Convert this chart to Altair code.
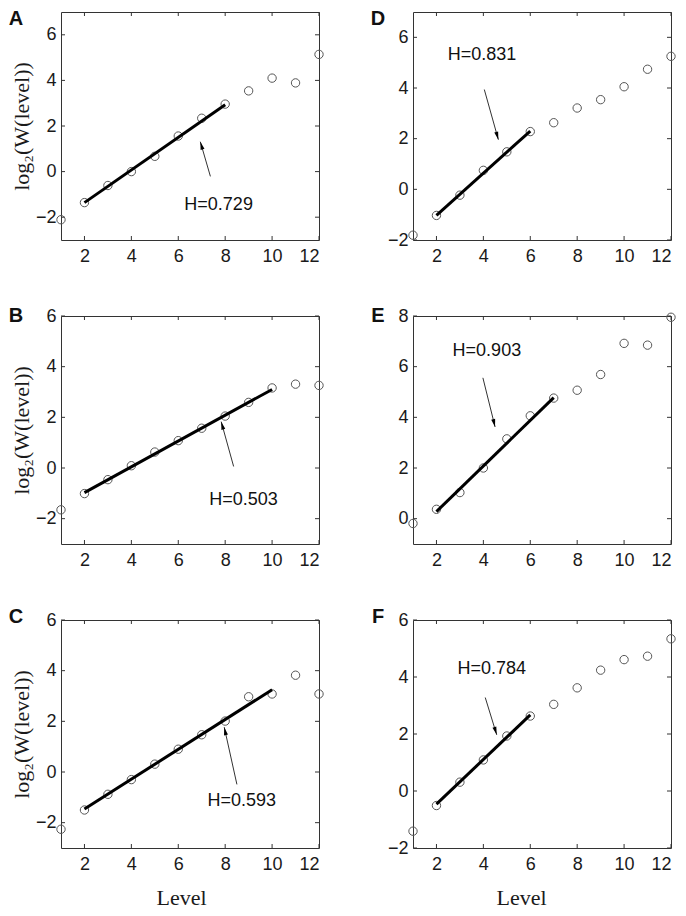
import math
import altair as alt
import pandas as pd

levels = [1, 2, 3, 4, 5, 6, 7, 8, 9, 10, 11, 12]
x_ticks = [2, 4, 6, 8, 10, 12]

# panel letters (in grid order: A D / B E / C F)
letters = ["A", "D", "B", "E", "C", "F"]

y_A = [-2.11, -1.36, -0.61, 0.00, 0.67, 1.56, 2.34, 2.96, 3.54, 4.10, 3.89, 5.14]
y_B = [-1.65, -1.01, -0.46, 0.09, 0.63, 1.08, 1.57, 2.05, 2.59, 3.16, 3.31, 3.26]
y_C = [-2.26, -1.50, -0.88, -0.30, 0.31, 0.90, 1.47, 2.01, 2.97, 3.08, 3.82, 3.08]
y_D = [-1.81, -1.03, -0.23, 0.75, 1.48, 2.28, 2.63, 3.21, 3.54, 4.05, 4.74, 5.25]
y_E = [-0.19, 0.37, 1.03, 2.00, 3.15, 4.06, 4.76, 5.07, 5.69, 6.92, 6.85, 7.95]
y_F = [-1.41, -0.51, 0.31, 1.09, 1.93, 2.63, 3.04, 3.62, 4.24, 4.61, 4.73, 5.34]

# fitted line end points
fit_A = ([2, 8], [-1.36, 2.93])
fit_B = ([2, 10], [-0.97, 3.10])
fit_C = ([2, 10], [-1.46, 3.25])
fit_D = ([2, 6], [-1.03, 2.30])
fit_E = ([2, 7], [0.28, 4.78])
fit_F = ([2, 6], [-0.46, 2.67])

# y-axis domains and ticks
dom_A, ticks_A = [-3, 7], [-2, 0, 2, 4, 6]
dom_B, ticks_B = [-3, 6], [-2, 0, 2, 4, 6]
dom_C, ticks_C = [-3, 6], [-2, 0, 2, 4, 6]
dom_D, ticks_D = [-2, 7], [-2, 0, 2, 4, 6]
dom_E, ticks_E = [-1, 8], [0, 2, 4, 6, 8]
dom_F, ticks_F = [-2, 6], [-2, 0, 2, 4, 6]

# annotation labels: text, position, arrow tail, arrow head
labels = ["H=0.729", "H=0.831", "H=0.503", "H=0.903", "H=0.593", "H=0.784"]
label_pos = [(7.72, -1.47), (3.94, 5.29), (8.78, -1.26), (4.15, 6.62), (8.71, -1.16), (4.36, 4.27)]
arrow_tail = [(7.37, -0.21), (4.04, 3.94), (8.36, 0.06), (3.98, 5.56), (8.50, -0.49), (4.08, 3.28)]
arrow_head = [(6.94, 1.31), (4.64, 1.96), (7.83, 1.83), (4.50, 3.62), (7.96, 1.77), (4.57, 1.97)]

W, H = 258, 228
SANS = "Liberation Sans"
SERIF = "Liberation Serif"
AXC = "#1a1a1a"
HEAD = "M0,0L-0.4,1.6L0.4,1.6Z"

series = [y_A, y_D, y_B, y_E, y_C, y_F]
fits = [fit_A, fit_D, fit_B, fit_E, fit_C, fit_F]
doms = [dom_A, dom_D, dom_B, dom_E, dom_C, dom_F]
yticks = [ticks_A, ticks_D, ticks_B, ticks_E, ticks_C, ticks_F]
letter_dy = [7, 7, 0, 0, -3, -3]


def panel(i):
    left = (i % 2 == 0)
    bottom = (i >= 4)
    dom = doms[i]
    xs = alt.Scale(domain=[1, 12], nice=False, zero=False)
    ys = alt.Scale(domain=dom, nice=False, zero=False)
    xaxis = alt.Axis(values=x_ticks, ticks=False, domain=False, grid=False,
                     labelFont=SANS, labelFontSize=18, labelColor=AXC, labelPadding=7,
                     title="Level" if bottom else None, titleFont=SERIF, titleFontSize=22,
                     titleFontWeight="normal", titleColor=AXC, titlePadding=14,
                     titleX=(120 if left else 108))
    yaxis = alt.Axis(values=yticks[i], ticks=False, domain=False, grid=False,
                     labelFont=SANS, labelFontSize=18, labelColor=AXC, labelPadding=5,
                     title="log\u2082(W(level))" if left else None, titleFont=SERIF,
                     titleFontSize=22, titleFontWeight="normal", titleColor=AXC,
                     titlePadding=2)

    pts = pd.DataFrame({"x": levels, "y": series[i]})
    base_pts = alt.Chart(pts).mark_point(shape="circle", filled=False, size=70,
                                         stroke="#555555", strokeWidth=1, opacity=1).encode(
        x=alt.X("x:Q", scale=xs, axis=xaxis),
        y=alt.Y("y:Q", scale=ys, axis=yaxis),
    )

    fx, fy = fits[i]
    fit = alt.Chart(pd.DataFrame({"x": fx, "y": fy})).mark_line(
        color="black", strokeWidth=3).encode(
        x=alt.X("x:Q", scale=xs), y=alt.Y("y:Q", scale=ys))

    tx, ty = arrow_tail[i]
    hx, hy = arrow_head[i]
    arr = pd.DataFrame({"x": [tx], "y": [ty], "x2": [hx], "y2": [hy]})
    shaft = alt.Chart(arr).mark_rule(color="#333333", strokeWidth=1).encode(
        x=alt.X("x:Q", scale=xs), y=alt.Y("y:Q", scale=ys), x2="x2:Q", y2="y2:Q")

    sx = W / 11.0
    sy = H / float(dom[1] - dom[0])
    dx = (hx - tx) * sx
    dy = -(hy - ty) * sy
    ang = math.degrees(math.atan2(dx, -dy)) % 360
    head = alt.Chart(pd.DataFrame({"x": [hx], "y": [hy]})).mark_point(
        shape=HEAD, filled=True, color="black", size=100, angle=ang, opacity=1,
        strokeWidth=0).encode(
        x=alt.X("x:Q", scale=xs), y=alt.Y("y:Q", scale=ys))

    lx, ly = label_pos[i]
    txt = alt.Chart(pd.DataFrame({"x": [lx], "y": [ly], "t": [labels[i]]})).mark_text(
        font=SANS, fontSize=18, color="#111111", align="center", baseline="middle").encode(
        x=alt.X("x:Q", scale=xs), y=alt.Y("y:Q", scale=ys), text="t:N")

    letter = alt.Chart(pd.DataFrame({"t": [letters[i]]})).mark_text(
        font=SANS, fontSize=20, fontWeight="bold", color="#111111",
        align="center", baseline="middle").encode(
        x=alt.value(-45 if left else -35), y=alt.value(letter_dy[i]), text="t:N")

    xt = pd.DataFrame({"x": x_ticks})
    yt = pd.DataFrame({"y": yticks[i]})
    tb = alt.Chart(xt).mark_rule(color="#333333", strokeWidth=1).encode(
        x=alt.X("x:Q", scale=xs), y=alt.value(H), y2=alt.value(H - 4))
    tt = alt.Chart(xt).mark_rule(color="#333333", strokeWidth=1).encode(
        x=alt.X("x:Q", scale=xs), y=alt.value(0), y2=alt.value(4))
    tl = alt.Chart(yt).mark_rule(color="#333333", strokeWidth=1).encode(
        y=alt.Y("y:Q", scale=ys), x=alt.value(0), x2=alt.value(4))
    tr = alt.Chart(yt).mark_rule(color="#333333", strokeWidth=1).encode(
        y=alt.Y("y:Q", scale=ys), x=alt.value(W - 4), x2=alt.value(W))

    return alt.layer(tb, tt, tl, tr, base_pts, fit, shaft, head, txt, letter).properties(
        width=W, height=H)


chart = alt.concat(*[panel(i) for i in range(6)], columns=2,
                   spacing={"row": 76, "column": 94}, bounds="flush").properties(
    padding=0
).configure(background="white").configure_view(stroke="#333333", strokeWidth=1)

chart.save("out.html", embed_options={"renderer": "svg", "actions": False})
